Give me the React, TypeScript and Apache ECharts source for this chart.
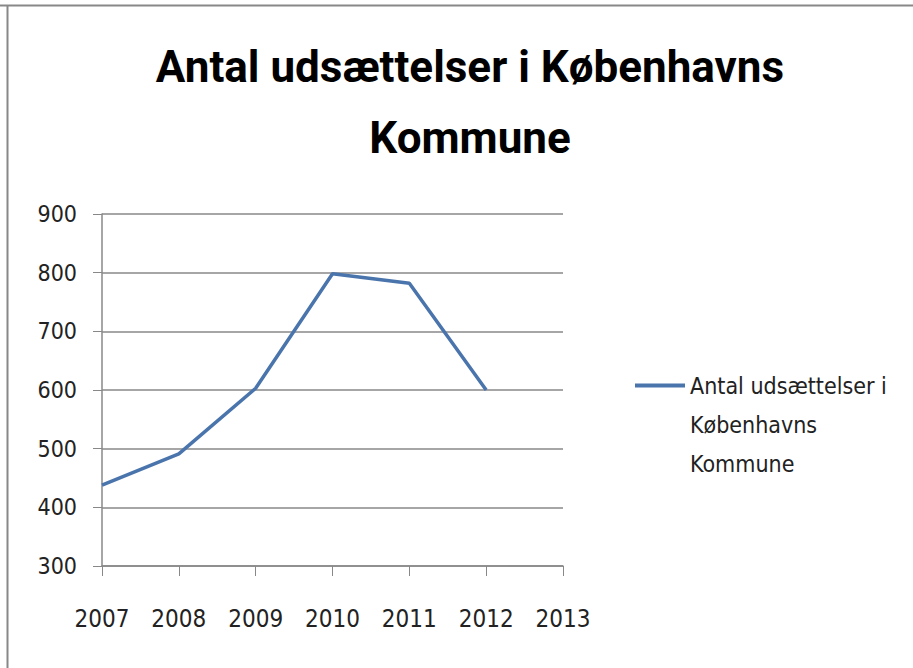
import React, { useEffect, useRef } from "react";
import * as echarts from "echarts";

const years = ["2007", "2008", "2009", "2010", "2011", "2012", "2013"];
const evictions = [438, 491, 603, 798, 782, 600, null];
const seriesName = "Antal udsættelser i Københavns Kommune";
const titleText = "Antal udsættelser i Københavns\nKommune";
const legendLines = ["", "", "Antal udsættelser i", "Københavns", "Kommune"];

const FONT = "'DejaVu Sans Condensed', 'DejaVu Sans', sans-serif";
const TITLE_FONT = "Roboto, sans-serif";

export default function App() {
  const ref = useRef<HTMLDivElement>(null);
  useEffect(() => {
    if (!ref.current) return;
    const chart = echarts.init(ref.current, undefined, { renderer: "svg" });
    chart.setOption({
      animation: false,
      backgroundColor: "#ffffff",
      title: {
        text: titleText,
        left: 465,
        textAlign: "center",
        top: 26,
        textStyle: {
          fontFamily: TITLE_FONT,
          fontSize: 44,
          fontWeight: "bold",
          color: "#000000",
          lineHeight: 71,
        },
      },
      graphic: [
        { type: "line", shape: { x1: 0, y1: 5.5, x2: 913, y2: 5.5 }, style: { stroke: "#888", lineWidth: 2 } },
        { type: "line", shape: { x1: 7.5, y1: 5, x2: 7.5, y2: 668 }, style: { stroke: "#888", lineWidth: 2 } },
      ],
      legend: {
        orient: "vertical",
        left: 630,
        top: 283,
        icon: "path://M0,0 L50,0 L50,4 L0,4 Z",
        itemWidth: 50,
        itemHeight: 4,
        formatter: () => legendLines.join("\n"),
        textStyle: {
          fontFamily: FONT,
          fontSize: 23,
          color: "#222",
          lineHeight: 39,
        },
        data: [seriesName],
      },
      grid: { left: 102, right: 350, top: 214, bottom: 102, containLabel: false },
      xAxis: {
        type: "category",
        data: years,
        boundaryGap: false,
        axisLine: { lineStyle: { color: "#888", width: 1.5 } },
        axisTick: { show: true, length: 10, lineStyle: { color: "#888" } },
        axisLabel: { fontFamily: FONT, fontSize: 24, color: "#222", margin: 41 },
        splitLine: { show: false },
      },
      yAxis: {
        type: "value",
        min: 300,
        max: 900,
        interval: 100,
        axisLine: { show: true, lineStyle: { color: "#888", width: 1.5 } },
        axisTick: { show: true, length: 9, lineStyle: { color: "#888" } },
        axisLabel: { fontFamily: FONT, fontSize: 23, color: "#222", margin: 25 },
        splitLine: { show: true, lineStyle: { color: "#888", width: 1.5 } },
      },
      series: [
        {
          name: seriesName,
          type: "line",
          data: evictions,
          symbol: "none",
          lineStyle: { color: "#4a74ac", width: 3.5 },
          itemStyle: { color: "#4a74ac" },
        },
      ],
    });
    return () => chart.dispose();
  }, []);
  return (
    <div
      ref={ref}
      style={{ position: "fixed", left: 0, top: 0, width: 913, height: 668 }}
    />
  );
}
